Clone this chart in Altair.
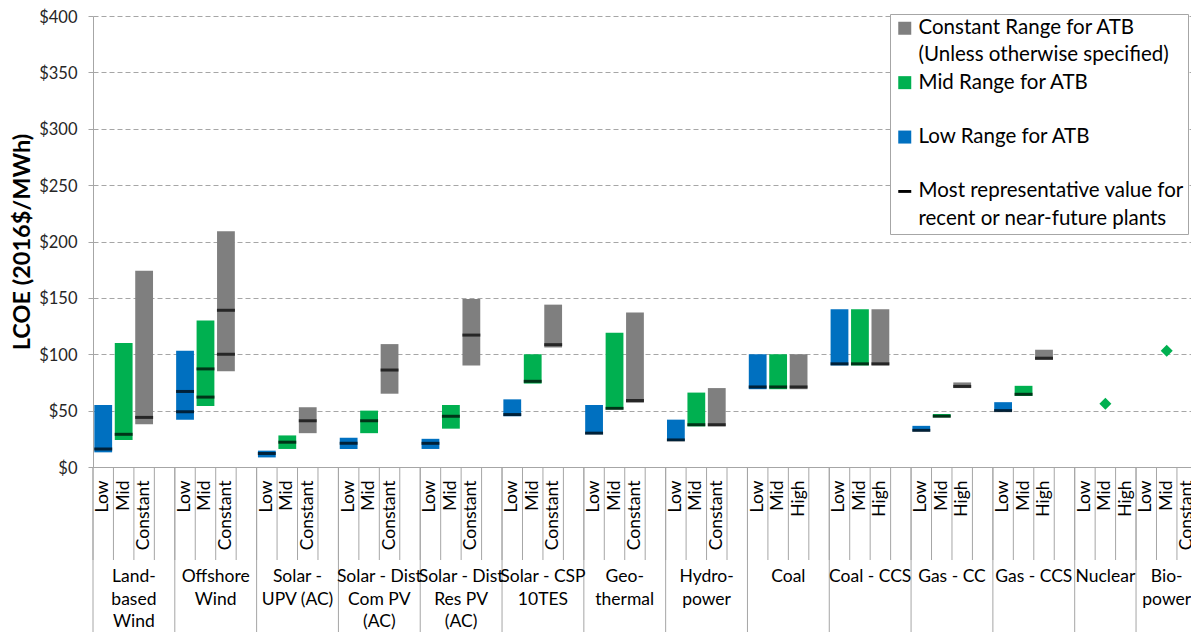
import altair as alt
import pandas as pd

FONT = "Lato"

# ---------------- categories ----------------
groups = ["Land-based Wind", "Offshore Wind", "Solar - UPV (AC)", "Solar - Dist Com PV (AC)",
          "Solar - Dist Res PV (AC)", "Solar - CSP 10TES", "Geothermal", "Hydropower",
          "Coal", "Coal - CCS", "Gas - CC", "Gas - CCS", "Nuclear", "Biopower"]
group_labels = ["Land-\nbased\nWind", "Offshore\nWind", "Solar -\nUPV (AC)", "Solar - Dist\nCom PV\n(AC)",
                "Solar - Dist\nRes PV\n(AC)", "Solar - CSP\n10TES", "Geo-\nthermal", "Hydro-\npower",
                "Coal", "Coal - CCS", "Gas - CC", "Gas - CCS", "Nuclear", "Bio-\npower"]
group_scenarios = ([["Low", "Mid", "Constant"]] * 8 + [["Low", "Mid", "High"]] * 5
                   + [["Low", "Mid", "Constant"]])
group_has_spacer = [True] * 12 + [False, False]

# ---------------- range bars (first 12 technologies) ----------------
low_min = [13, 42, 8.5, 16, 16, 45, 29, 23, 69, 90, 31.5, 49]
low_max = [55, 103, 14.5, 26, 25, 60, 55, 42, 100, 140, 36.5, 57.5]
mid_min = [24, 54, 16, 30, 34, 74, 51, 36, 69, 90, 44, 63]
mid_max = [110, 130, 28, 50, 55, 100, 119, 66, 100, 140, 47, 72]
third_min = [38, 85, 30, 65, 90, 106, 57, 36, 69, 90, 70, 95]
third_max = [174, 209, 53, 109, 149, 144, 137, 70, 100, 140, 75, 104]

# ---------------- most representative values ----------------
rep_tech = ["Land-based Wind", "Land-based Wind", "Land-based Wind",
            "Offshore Wind", "Offshore Wind", "Offshore Wind", "Offshore Wind", "Offshore Wind", "Offshore Wind",
            "Solar - UPV (AC)", "Solar - UPV (AC)", "Solar - UPV (AC)",
            "Solar - Dist Com PV (AC)", "Solar - Dist Com PV (AC)", "Solar - Dist Com PV (AC)",
            "Solar - Dist Res PV (AC)", "Solar - Dist Res PV (AC)", "Solar - Dist Res PV (AC)",
            "Solar - CSP 10TES", "Solar - CSP 10TES", "Solar - CSP 10TES",
            "Geothermal", "Geothermal", "Geothermal",
            "Hydropower", "Hydropower", "Hydropower",
            "Coal", "Coal", "Coal",
            "Coal - CCS", "Coal - CCS", "Coal - CCS",
            "Gas - CC", "Gas - CC", "Gas - CC",
            "Gas - CCS", "Gas - CCS", "Gas - CCS"]
rep_scenario = ["Low", "Mid", "Constant",
                "Low", "Low", "Mid", "Mid", "Constant", "Constant",
                "Low", "Mid", "Constant",
                "Low", "Mid", "Constant",
                "Low", "Mid", "Constant",
                "Low", "Mid", "Constant",
                "Low", "Mid", "Constant",
                "Low", "Mid", "Constant",
                "Low", "Mid", "High",
                "Low", "Mid", "High",
                "Low", "Mid", "High",
                "Low", "Mid", "High"]
rep_value = [16, 29, 44,
             67, 49, 87, 62, 139, 100,
             12, 22, 41,
             21, 41, 86,
             21, 45, 117,
             46.5, 76, 108.5,
             30, 52, 59,
             24, 37.5, 37.5,
             71, 71, 71,
             91.5, 91.5, 91.5,
             32.5, 45, 71.5,
             50, 64.5, 96.5]

# ---------------- single-point estimates ----------------
point_tech = ["Nuclear", "Biopower"]
point_scenario = ["Mid", "Mid"]
point_value = [56, 103]

# ---------------- legend ----------------
legend_entries = ["Constant Range for ATB", "(Unless otherwise specified)", "Mid Range for ATB", " ",
                  "Low Range for ATB", "  ", "Most representative value for", "recent or near-future plants"]
legend_colors = ["#7f7f7f", "transparent", "#00b050", "transparent",
                 "#0070c0", "transparent", "#000000", "transparent"]
legend_shapes = ["square", "square", "square", "square", "square", "square",
                 "M-1,-0.22H1V0.22H-1Z", "square"]
scenario_legend = {"Low": "Low Range for ATB", "Mid": "Mid Range for ATB",
                   "Constant": "Constant Range for ATB", "High": "Constant Range for ATB"}

# ---------------- build tables ----------------
slot_ids, group_start_rows = [], []
label4_rows, label3_rows = [], []
for g, lab, scs, sp in zip(groups, group_labels, group_scenarios, group_has_spacer):
    ids = [f"{g}|{s}" for s in scs] + ([f"{g}|"] if sp else [])
    slot_ids += ids
    group_start_rows.append({"slot": ids[0]})
    if sp:
        label4_rows.append({"slot": ids[2], "label": lab})
    else:
        label3_rows.append({"slot": ids[1], "label": lab})
slots_df = pd.DataFrame({"slot": slot_ids})
starts_df = pd.DataFrame(group_start_rows)
lab4_df = pd.DataFrame(label4_rows)
lab3_df = pd.DataFrame(label3_rows)

bar_rows = []
for i, g in enumerate(groups[:12]):
    scs = group_scenarios[i]
    for s, lo, hi in zip(scs, [low_min[i], mid_min[i], third_min[i]], [low_max[i], mid_max[i], third_max[i]]):
        bar_rows.append({"slot": f"{g}|{s}", "low": lo, "high": hi, "legend": scenario_legend[s]})
bars_df = pd.DataFrame(bar_rows)
rep_df = pd.DataFrame({"slot": [f"{t}|{s}" for t, s in zip(rep_tech, rep_scenario)], "value": rep_value})
pt_df = pd.DataFrame({"slot": [f"{t}|{s}" for t, s in zip(point_tech, point_scenario)], "value": point_value})
leg_df = pd.DataFrame({"entry": legend_entries})

# ---------------- chart ----------------
TOP = 8
W, H = 1098, 459 - TOP
GRAY = "#a6a6a6"

xscale = alt.Scale(domain=slot_ids, range=[0, 1104.4], paddingInner=0, paddingOuter=0)
yscale = alt.Scale(domain=[0, 400], nice=False, zero=True)
cscale = alt.Scale(domain=legend_entries, range=legend_colors)
sscale = alt.Scale(domain=legend_entries, range=legend_shapes)

xaxis = alt.Axis(title=None, labelExpr="split(datum.label, '|')[1]", labelAngle=270,
                 labelAlign="right", labelBaseline="middle", labelFont=FONT, labelFontSize=17.5,
                 labelColor="black", labelPadding=13, ticks=False, domainColor=GRAY,
                 grid=False, labelOverlap=False)
yaxis = alt.Axis(values=list(range(0, 401, 50)), format="$,.0f", title="LCOE (2016$/MWh)",
                 titleFont=FONT, titleFontSize=23.5, titleFontWeight="bold", titleColor="black",
                 titlePadding=4, labelFont=FONT, labelFontSize=16.5, labelColor="#262626",
                 labelPadding=11, labelOffset=1, tickSize=5, tickColor=GRAY, domainColor=GRAY,
                 grid=True, gridDash=[5, 3], gridColor=GRAY)

legend_def = alt.Legend(title=None, orient="none", legendX=797, legendY=14 - (8 + TOP),
                        direction="vertical", strokeColor=GRAY, fillColor="white", padding=4,
                        symbolSize=169, symbolStrokeWidth=0, labelFont=FONT, labelFontSize=20.5,
                        labelColor="black", rowPadding=6.2, symbolOffset=0.5, labelOffset=3.5,
                        labelLimit=600)


def xenc(bp=None):
    if bp is None:
        return alt.X("slot:N", scale=xscale, axis=xaxis)
    return alt.X("slot:N", scale=xscale, bandPosition=bp, axis=xaxis)


short_sep = alt.Chart(slots_df).mark_rule(color=GRAY, strokeWidth=1).encode(
    x=xenc(0), y=alt.value(H), y2=alt.value(H + 93))
long_sep = alt.Chart(starts_df).mark_rule(color=GRAY, strokeWidth=1).encode(
    x=xenc(0), y=alt.value(H), y2=alt.value(H + 200))

bars = alt.Chart(bars_df).mark_bar(width=alt.RelativeBandSize(0.87)).encode(
    x=xenc(),
    y=alt.Y("low:Q", scale=yscale, axis=yaxis),
    y2="high:Q",
    color=alt.Color("legend:N", scale=cscale, legend=legend_def))

reps = alt.Chart(rep_df).mark_tick(color="black", thickness=3, size=18).encode(
    x=xenc(), y=alt.Y("value:Q", scale=yscale, axis=yaxis))

pts = alt.Chart(pt_df).mark_point(shape="diamond", filled=True, size=144, color="#00b050", opacity=1).encode(
    x=xenc(), y=alt.Y("value:Q", scale=yscale, axis=yaxis))

text_props = dict(font=FONT, fontSize=17.5, lineBreak="\n", baseline="top", align="center",
                  color="black", lineHeight=22.5)
glab4 = alt.Chart(lab4_df).mark_text(**text_props).encode(
    x=xenc(0), y=alt.value(H + 101), text="label:N")
glab3 = alt.Chart(lab3_df).mark_text(**text_props).encode(
    x=xenc(0.5), y=alt.value(H + 101), text="label:N")

leg = alt.Chart(leg_df).mark_point(filled=True, opacity=1).encode(
    color=alt.Color("entry:N", scale=cscale, legend=legend_def),
    shape=alt.Shape("entry:N", scale=sscale, legend=legend_def),
).transform_filter("false")

chart = alt.layer(bars, short_sep, long_sep, reps, pts, glab4, glab3, leg).properties(
    width=W, height=H,
    autosize=alt.AutoSizeParams(type="none"),
    padding={"left": 85, "top": TOP, "right": 0, "bottom": 165},
    background="white",
).configure_view(strokeWidth=0)

chart.save("out.html", embed_options={"renderer": "svg", "actions": False})
